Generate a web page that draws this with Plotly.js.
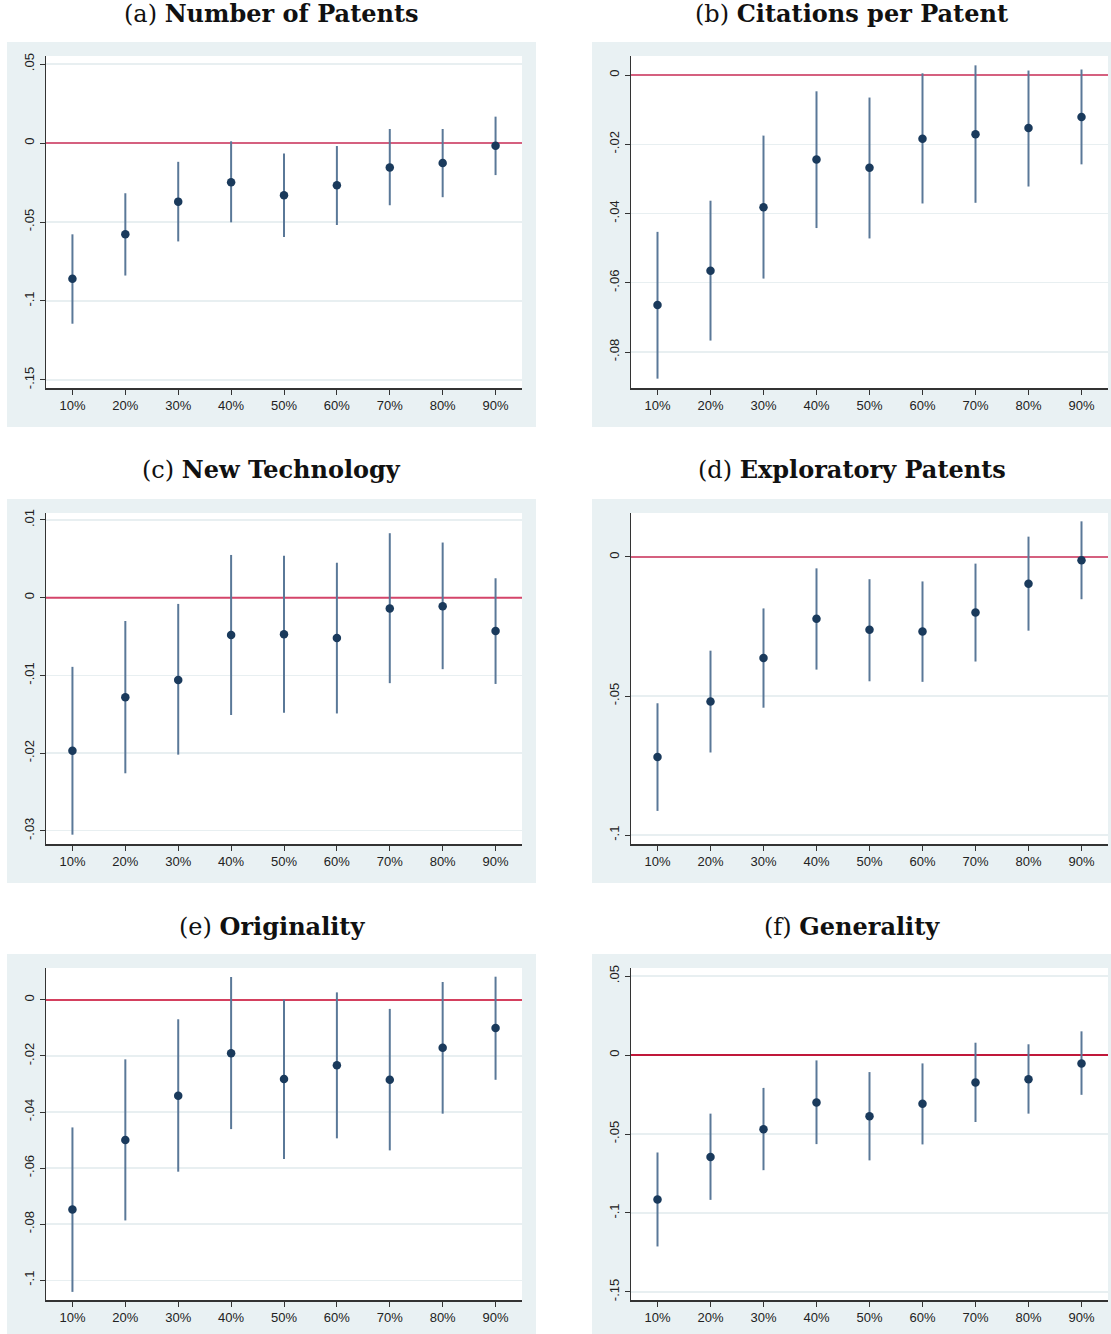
<!DOCTYPE html>
<html>
<head>
<meta charset="utf-8">
<script src="https://cdn.plot.ly/plotly-3.0.1.min.js"></script>
<style>
html,body{margin:0;padding:0;background:#fff;}
#chart{width:1111px;height:1334px;}
</style>
</head>
<body>
<div id="chart"></div>
<script>
// ---------- data ----------
const categories = ["10%","20%","30%","40%","50%","60%","70%","80%","90%"];

const patentsEst = [-0.0860,-0.0578,-0.0371,-0.0248,-0.0331,-0.0267,-0.0155,-0.0127,-0.0017];
const patentsLo  = [-0.1144,-0.0839,-0.0623,-0.0502,-0.0595,-0.0519,-0.0394,-0.0343,-0.0203];
const patentsHi  = [-0.0578,-0.0318,-0.0119, 0.0011,-0.0066,-0.0019, 0.0089, 0.0089, 0.0167];

const citesEst = [-0.0664,-0.0565,-0.0382,-0.0244,-0.0268,-0.0184,-0.0171,-0.0153,-0.0121];
const citesLo  = [-0.0877,-0.0767,-0.0588,-0.0442,-0.0472,-0.0371,-0.0369,-0.0322,-0.0258];
const citesHi  = [-0.0453,-0.0363,-0.0175,-0.0047,-0.0065, 0.0005, 0.0028, 0.0013, 0.0016];

const newTechEst = [-0.0197,-0.0128,-0.0106,-0.0048,-0.0047,-0.0052,-0.0014,-0.0011,-0.0043];
const newTechLo  = [-0.0305,-0.0226,-0.0202,-0.0151,-0.0148,-0.0149,-0.0110,-0.0092,-0.0111];
const newTechHi  = [-0.0089,-0.0030,-0.0008, 0.0055, 0.0054, 0.0045, 0.0083, 0.0071, 0.0025];

const exploreEst = [-0.0719,-0.0520,-0.0363,-0.0222,-0.0262,-0.0268,-0.0200,-0.0096,-0.0012];
const exploreLo  = [-0.0913,-0.0703,-0.0542,-0.0405,-0.0447,-0.0449,-0.0376,-0.0265,-0.0152];
const exploreHi  = [-0.0526,-0.0337,-0.0185,-0.0041,-0.0080,-0.0088,-0.0024, 0.0073, 0.0128];

const origEst = [-0.0748,-0.0500,-0.0342,-0.0190,-0.0282,-0.0233,-0.0285,-0.0171,-0.0100];
const origLo  = [-0.1042,-0.0787,-0.0613,-0.0461,-0.0568,-0.0494,-0.0537,-0.0406,-0.0285];
const origHi  = [-0.0455,-0.0212,-0.0069, 0.0082, 0.0002, 0.0027,-0.0032, 0.0064, 0.0083];

const genEst = [-0.0915,-0.0646,-0.0470,-0.0301,-0.0388,-0.0309,-0.0174,-0.0153,-0.0053];
const genLo  = [-0.1212,-0.0917,-0.0729,-0.0564,-0.0667,-0.0566,-0.0424,-0.0371,-0.0252];
const genHi  = [-0.0617,-0.0371,-0.0208,-0.0034,-0.0108,-0.0053, 0.0078, 0.0068, 0.0150];

const referenceLevel = 0;

const panelLetters = ["(a)","(b)","(c)","(d)","(e)","(f)"];
const panelNames = ["Number of Patents","Citations per Patent","New Technology","Exploratory Patents","Originality","Generality"];

const ticksA = {vals:[0.05,0,-0.05,-0.1,-0.15], text:[".05","0","-.05","-.1","-.15"]};
const ticksB = {vals:[0,-0.02,-0.04,-0.06,-0.08], text:["0","-.02","-.04","-.06","-.08"]};
const ticksC = {vals:[0.01,0,-0.01,-0.02,-0.03], text:[".01","0","-.01","-.02","-.03"]};
const ticksD = {vals:[0,-0.05,-0.1], text:["0","-.05","-.1"]};
const ticksE = {vals:[0,-0.02,-0.04,-0.06,-0.08,-0.1], text:["0","-.02","-.04","-.06","-.08","-.1"]};
const ticksF = {vals:[0.05,0,-0.05,-0.1,-0.15], text:[".05","0","-.05","-.1","-.15"]};

// ---------- layout geometry (pixels) ----------
const W = 1111, H = 1334;
const xRange = [0.5, 9.5];
const panels = [
  {est:patentsEst, lo:patentsLo, hi:patentsHi, ticks:ticksA, range:[-0.1551,0.0551], px:[46,522], py:[56,388], box:[7,536,42,427], zc:"#d5607f", title:14},
  {est:citesEst, lo:citesLo, hi:citesHi, ticks:ticksB, range:[-0.0904,0.0055], px:[631,1108], py:[56,388], box:[592,1111,42,427], zc:"#d5607f", title:14},
  {est:newTechEst, lo:newTechLo, hi:newTechHi, ticks:ticksC, range:[-0.0317,0.0109], px:[46,522], py:[513,844], box:[7,536,499,883], zc:"#d4456a", title:470},
  {est:exploreEst, lo:exploreLo, hi:exploreHi, ticks:ticksD, range:[-0.1032,0.0158], px:[631,1108], py:[513,844], box:[592,1111,499,883], zc:"#d5607f", title:470},
  {est:origEst, lo:origLo, hi:origHi, ticks:ticksE, range:[-0.1071,0.0114], px:[46,522], py:[968,1300], box:[7,536,954,1334], zc:"#d4405e", title:926},
  {est:genEst, lo:genLo, hi:genHi, ticks:ticksF, range:[-0.1551,0.0551], px:[631,1108], py:[968,1300], box:[592,1111,954,1334], zc:"#c0183a", title:926}
];

const xpos = categories.map((c,i)=>i+1);
const traces = [];
const layout = {
  width: W, height: H,
  margin: {l:0,r:0,t:0,b:0},
  paper_bgcolor: "#ffffff",
  plot_bgcolor: "#ffffff",
  showlegend: false,
  shapes: [],
  annotations: []
};

const tickFont = {family: "Liberation Sans, Arial, sans-serif", size: 13, color: "#222222"};

panels.forEach((p, k) => {
  const n = k + 1;
  const xa = n === 1 ? "x" : "x" + n;
  const ya = n === 1 ? "y" : "y" + n;
  const xkey = n === 1 ? "xaxis" : "xaxis" + n;
  const ykey = n === 1 ? "yaxis" : "yaxis" + n;

  // outer panel background
  layout.shapes.push({
    type: "rect", xref: "paper", yref: "paper", layer: "below",
    x0: p.box[0]/W, x1: p.box[1]/W, y0: 1 - p.box[3]/H, y1: 1 - p.box[2]/H,
    fillcolor: "#e9f1f3", line: {width: 0}
  });
  // plot region (white)
  layout.shapes.push({
    type: "rect", xref: "paper", yref: "paper", layer: "below",
    x0: p.px[0]/W, x1: p.px[1]/W, y0: 1 - p.py[1]/H, y1: 1 - p.py[0]/H,
    fillcolor: "#ffffff", line: {width: 0}
  });

  layout[xkey] = {
    domain: [p.px[0]/W, p.px[1]/W],
    anchor: ya,
    range: xRange,
    tickvals: xpos,
    ticktext: categories,
    showgrid: false, zeroline: false,
    showline: true, linecolor: "#333333", linewidth: 1.5,
    ticks: "outside", ticklen: 5, tickcolor: "#333333", tickwidth: 1,
    tickfont: tickFont,
    fixedrange: true
  };
  layout[ykey] = {
    domain: [1 - p.py[1]/H, 1 - p.py[0]/H],
    anchor: xa,
    range: p.range,
    tickvals: p.ticks.vals,
    ticktext: p.ticks.text,
    tickangle: -90,
    showgrid: true, gridcolor: "#e8eff1", gridwidth: 1.2,
    zeroline: false,
    showline: true, linecolor: "#333333", linewidth: 1.5,
    ticks: "outside", ticklen: 5, tickcolor: "#333333", tickwidth: 1,
    tickfont: tickFont,
    fixedrange: true
  };

  // zero reference line (drawn under the estimates)
  traces.push({
    type: "scatter", mode: "lines",
    x: xRange, y: xRange.map(() => referenceLevel),
    xaxis: xa, yaxis: ya,
    line: {color: p.zc, width: 2},
    cliponaxis: true,
    hoverinfo: "skip"
  });

  traces.push({
    type: "scatter", mode: "markers",
    x: xpos, y: p.est,
    xaxis: xa, yaxis: ya,
    marker: {color: "#1a3a5c", size: 8.5},
    error_y: {
      type: "data", symmetric: false,
      array: p.hi.map((h,i)=>h - p.est[i]),
      arrayminus: p.lo.map((l,i)=>p.est[i] - l),
      width: 0, thickness: 2, color: "#5a7898"
    },
    hoverinfo: "skip"
  });

  layout.annotations.push({
    xref: "paper", yref: "paper",
    x: ((p.box[0] + p.box[1]) / 2) / W,
    y: 1 - p.title / H,
    xanchor: "center", yanchor: "middle",
    showarrow: false,
    text: panelLetters[k] + " <b>" + panelNames[k] + "</b>",
    font: {family: "DejaVu Serif, Liberation Serif, serif", size: 24, color: "#111111"}
  });
});

Plotly.newPlot("chart", traces, layout, {staticPlot: true, displayModeBar: false});
</script>
</body>
</html>
